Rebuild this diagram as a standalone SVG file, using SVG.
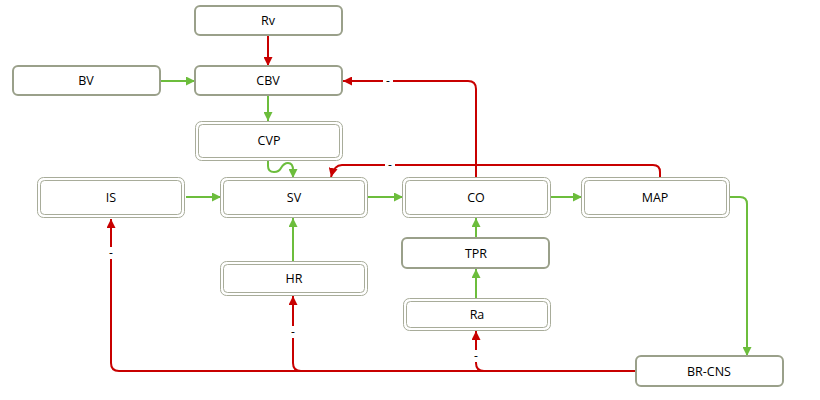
<svg xmlns="http://www.w3.org/2000/svg" width="820" height="400" viewBox="0 0 820 400">
<style>
.s{fill:#fff;stroke:#9aa08a;stroke-width:2}
.d{fill:#fff;stroke:#a8ac9a;stroke-width:1}
.di{fill:none;stroke:#a8ac9a;stroke-width:1}
.t{font-family:"Open Sans","Liberation Sans",sans-serif;font-size:12.5px;fill:#000;text-anchor:middle}
.l{font-family:"Open Sans","Liberation Sans",sans-serif;font-size:12px;fill:#000;text-anchor:middle}
.r{fill:none;stroke:#c80000;stroke-width:2}
.g{fill:none;stroke:#6cbd3c;stroke-width:2}
</style>
<defs>
<marker id="ar" viewBox="0 0 10 10" refX="10" refY="5" markerWidth="9" markerHeight="9" markerUnits="userSpaceOnUse" orient="auto"><path d="M0,0 L10,5 L0,10 z" fill="#c80000"/></marker>
<marker id="ag" viewBox="0 0 10 10" refX="10" refY="5" markerWidth="9" markerHeight="9" markerUnits="userSpaceOnUse" orient="auto"><path d="M0,0 L10,5 L0,10 z" fill="#6cbd3c"/></marker>
</defs>
<g id="connectors">
<path class="r" d="M268,36 V66" marker-end="url(#ar)"/>
<path class="g" d="M161,81 H195" marker-end="url(#ag)"/>
<path class="g" d="M268,96 V121" marker-end="url(#ag)"/>
<path class="g" d="M268,161 V166 Q268,172 274,172 Q279,172 281,168 Q284,163 288,163 Q293,163 293,170 V178" marker-end="url(#ag)"/>
<path class="g" d="M186,197 H221" marker-end="url(#ag)"/>
<path class="g" d="M368,197 H403" marker-end="url(#ag)"/>
<path class="g" d="M551,197 H582" marker-end="url(#ag)"/>
<path class="g" d="M730,197 H740 Q747,197 747,204 V356" marker-end="url(#ag)"/>
<path class="g" d="M293,262 V218" marker-end="url(#ag)"/>
<path class="g" d="M476,238 V218" marker-end="url(#ag)"/>
<path class="g" d="M476,298 V269" marker-end="url(#ag)"/>
<path class="r" d="M476,177 V89 Q476,81 468,81 H343" marker-end="url(#ar)"/>
<path class="r" d="M660,177 V172 Q660,165 653,165 H342 Q334,165 331,177" marker-end="url(#ar)"/>
<path class="r" d="M636,371 H119 Q111,371 111,363 V219" marker-end="url(#ar)"/>
<path class="r" d="M636,371 H301 Q293,371 293,363 V296" marker-end="url(#ar)"/>
<path class="r" d="M636,371 H484 Q476,371 476,363 V331" marker-end="url(#ar)"/>
<rect x="383" y="76" width="10" height="10" fill="#fff"/><text class="l" x="388" y="85">-</text>
<rect x="385" y="160" width="10" height="10" fill="#fff"/><text class="l" x="390" y="169">-</text>
<rect x="106" y="247" width="10" height="12" fill="#fff"/><text class="l" x="111" y="257">-</text>
<rect x="288" y="326" width="10" height="12" fill="#fff"/><text class="l" x="293" y="336">-</text>
<rect x="471" y="350" width="10" height="12" fill="#fff"/><text class="l" x="476" y="360">-</text>
</g>
<g id="Rv"><rect class="s" x="195" y="6" width="147" height="29" rx="5"/><text class="t" x="268" y="25">Rv</text></g>
<g id="CBV"><rect class="s" x="195" y="66" width="147" height="29" rx="5"/><text class="t" x="268" y="85">CBV</text></g>
<g id="BV"><rect class="s" x="13" y="66" width="147" height="29" rx="5"/><text class="t" x="86" y="85">BV</text></g>
<g id="CVP"><rect class="d" x="195.5" y="121.5" width="147" height="39" rx="6"/><rect class="di" x="198.5" y="124.5" width="141" height="33" rx="4"/><text class="t" x="269" y="145">CVP</text></g>
<g id="SV"><rect class="d" x="220.5" y="177.5" width="147" height="40" rx="6"/><rect class="di" x="223.5" y="180.5" width="141" height="34" rx="4"/><text class="t" x="294" y="202">SV</text></g>
<g id="IS"><rect class="d" x="37.5" y="177.5" width="147" height="40" rx="6"/><rect class="di" x="40.5" y="180.5" width="141" height="34" rx="4"/><text class="t" x="111" y="202">IS</text></g>
<g id="CO"><rect class="d" x="402.5" y="177.5" width="148" height="40" rx="6"/><rect class="di" x="405.5" y="180.5" width="142" height="34" rx="4"/><text class="t" x="476" y="202">CO</text></g>
<g id="MAP"><rect class="d" x="581.5" y="177.5" width="148" height="40" rx="6"/><rect class="di" x="584.5" y="180.5" width="142" height="34" rx="4"/><text class="t" x="655" y="202">MAP</text></g>
<g id="TPR"><rect class="s" x="402" y="238" width="147" height="30" rx="5"/><text class="t" x="476" y="258">TPR</text></g>
<g id="Ra"><rect class="d" x="403.5" y="298.5" width="147" height="32" rx="6"/><rect class="di" x="406.5" y="301.5" width="141" height="26" rx="4"/><text class="t" x="477" y="319">Ra</text></g>
<g id="HR"><rect class="d" x="220.5" y="261.5" width="147" height="34" rx="6"/><rect class="di" x="223.5" y="264.5" width="141" height="28" rx="4"/><text class="t" x="294" y="283">HR</text></g>
<g id="BR-CNS"><rect class="s" x="636" y="356" width="147" height="30" rx="5"/><text class="t" x="709" y="376">BR-CNS</text></g>
</svg>
